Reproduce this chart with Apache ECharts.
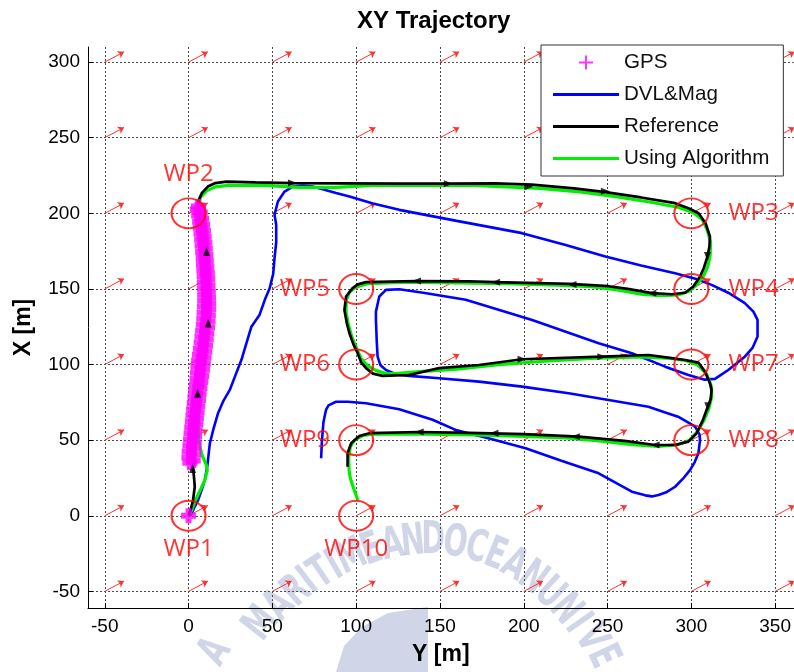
<!DOCTYPE html>
<html><head><meta charset="utf-8">
<script src="https://cdn.jsdelivr.net/npm/echarts@6/dist/echarts.min.js"></script>
<style>html,body{margin:0;padding:0;background:#fff}#c{width:794px;height:672px}</style>
</head><body><div id="c"></div>
<script>
// ---------------- data ----------------
const wpNames = ['WP1','WP2','WP3','WP4','WP5','WP6','WP7','WP8','WP9','WP10'];
const wpY = [0, 0, 300, 300, 100, 100, 300, 300, 100, 100];
const wpX = [0, 200, 200, 150, 150, 100, 100, 50, 50, 0];
const wpLabelSide = ['bottom','top','right','right','left','left','right','right','left','bottom'];

const quiverYNodes = [-50, 0, 50, 100, 150, 200, 250, 300, 350];
const quiverXNodes = [-50, 0, 50, 100, 150, 200, 250, 300];
const quiverU = 11.5;   // current vector, Y component [m]
const quiverV = 6.8;    // current vector, X component [m]

// GPS fixes [Y, X]
const gpsPoints = [
 [0,0],[0.8,35],[2.8,36.5],[0.2,38.5],[3.0,40.5],[0.4,42.5],[3.2,44.5],[0.8,46.5],[3.4,48.5],[1.2,50.5],
 [3.6,52.5],[1.5,54.5],[3.9,56.5],[1.9,58.5],[4.3,60.5],[2.3,62.5],[4.7,64.5],[2.6,66.5],[5.1,68.5],[3.0,70.5],
 [5.5,72.5],[3.4,74.5],[5.9,76.5],[3.8,78.5],[6.3,80.5],[4.2,82.5],[6.8,84.5],[4.6,86.5],[7.3,88.5],[5.0,90.5],
 [7.8,92.5],[5.3,94.5],[8.3,96.5],[5.6,98.5],[8.8,100.5],[6.0,102.5],[9.2,104.5],[6.5,106.5],[9.7,108.5],[7.0,110.5],
 [10.1,112.5],[7.5,114.5],[10.5,116.5],[8.0,118.5],[10.9,120.5],[8.4,122.5],[11.3,124.5],[8.8,126.5],[11.6,128.5],[9.1,130.5],
 [11.8,132.5],[9.3,134.5],[12.0,136.5],[9.5,138.5],[12.0,140.5],[9.6,142.5],[11.9,144.5],[9.6,146.5],[11.8,148.5],[9.5,150.5],
 [11.6,152.5],[9.4,154.5],[11.4,156.5],[9.3,158.5],[11.2,160.5],[9.1,162.5],[10.9,164.5],[8.9,166.5],[10.6,168.5],[8.7,170.5],
 [10.3,172.5],[8.4,174.5],[10.0,176.5],[8.1,178.5],[9.7,180.5],[7.8,182.5],[9.3,184.5],[7.4,186.5],[8.9,188.5],[7.0,190.5],
 [8.4,192.5],[6.6,194.5],[7.8,196.5],[6.0,198.5],[7.0,200.5],[5.3,202.5],[5.8,204.5]
];

// DVL & magnetometer dead-reckoning [Y, X]
const dvlPoints = [
 [0.5,0],[1.8,1.6],[3.5,5.5],[5.7,10.4],[7.8,17],[9.7,23.6],[11.2,33],[12.7,47.9],[15,58],[17.6,67.8],
 [20.8,76],[24.6,83.2],[28,93],[31.5,103],[34.5,114],[37.5,125],[42.4,133],[45.5,142.8],[48.4,150.5],[50.5,160],
 [51.3,170.3],[52.3,181],[52.3,192.4],[51.3,199],[53.3,207.8],[57.3,214.4],[62.2,217.7],[68,218.3],[74.1,217.7],[80,216],
 [88,213.4],[96,211.1],[110,206.5],[125.7,202.3],[160,195],[199,186.9],[225,179],[248.7,171.4],[270,165.5],[290.3,160.4],
 [303,156.5],[312.1,152.7],[322,147.5],[331.9,140.6],[337,135],[339.5,129.5],[339.5,118.5],[336.5,111],[331.9,105.2],[322,96.4],
 [314.1,90.5],[308,90],[298.2,93.1],[284.4,98.6],[264.5,107.5],[244.7,114.1],[205,129.5],[165.4,142.8],[140,147.5],[125.7,149.8],
 [117.8,149.4],[113.8,145],[111.8,135],[111.8,129.5],[112.3,115],[112.8,105.2],[114.5,99.5],[117.8,96.4],[124,93.5],[131.6,92.5],
 [149.5,90.9],[173.3,88.7],[199,85.4],[226.8,81],[250.6,76.6],[274.4,72.1],[284,68.5],[292.1,65.5],[298.5,61.5],[302.2,58.9],
 [304.8,54],[305.2,50.1],[304.2,41.3],[302,35.5],[299.2,30.2],[295,24.5],[290.3,19.2],[285,15.5],[280.4,13.7],[276.4,12.8],
 [272.5,13.5],[264.5,15.9],[244.7,28.1],[222,36.5],[201.1,44.6],[180,51],[160,56.5],[145.6,63.5],[125.7,70.5],[105.9,74.4],
 [95,75.4],[88,75.4],[83.5,73],[82,70],[80.5,62],[80.1,56.7],[79.5,48],[79.1,38]
];

// Reference trajectory [Y, X]
const refPoints = [
 [0,0],[1.5,5],[2.7,10.4],[3.7,19.2],[3.2,26],[2.7,31.4],[3.5,45],[4.5,60],[5.4,81],[7.5,100],
 [10,115],[11.7,127.5],[12,145],[11.5,160],[10.7,174.7],[8.5,190],[5.7,200],[5.7,207.8],[8,213.5],[11.5,217.7],
 [16,220],[22.6,221],[40,220.5],[62,220],[90,219.8],[125.7,219.6],[155,219.6],[183,219.8],[204.8,219],[230,216.5],
 [248.7,214],[270,210.5],[290.3,206.7],[299,203],[304.3,200.1],[308.5,193.5],[311.1,184.6],[310.8,178],[309.6,171.4],[307.5,164],
 [305.2,158.2],[301.2,151.6],[296.3,147.5],[288.3,146.5],[276.4,147.2],[262,150],[250.6,151.8],[226.8,153.3],[183.2,154.5],[167.3,155],
 [136,155.2],[105.9,154.5],[101,153],[97.9,150.5],[94,145],[93,136.1],[94.5,127],[96,120.7],[98.5,113],[100.9,107.5],
 [103,101.5],[105.9,97.6],[110,94],[115.8,92.5],[131.6,93.1],[149.5,97.6],[173.3,99.7],[199,103.5],[246.6,105.2],[274.4,106.3],
 [288.3,104.2],[296.3,103],[304.2,101.3],[308.1,95.3],[311,88],[312.1,83.2],[311.5,77],[309.8,72.1],[306.9,63.3],[303.1,54.5],
 [298.2,49],[290.3,46.8],[278.4,46.8],[260,49.5],[232.8,52.3],[200,54],[167.3,54.8],[137.6,55.4],[107.9,54.6],[101.9,52.7],
 [97,47.9],[94.9,41.3],[94.9,32.4]
];

// Trajectory using the algorithm [Y, X]
const algPoints = [
 [0,0],[2,4],[4,10],[7,17],[9.7,23.6],[11.2,30],[10.5,34],[8,40],[6,50],[5.5,65],
 [6.5,85],[9,105],[11.5,122],[12,140],[11.5,160],[10,178],[7.5,195],[6,204],[7,210.5],[11,215],[16,217.5],
 [24,218.5],[45,218.5],[66,217.2],[88,217.2],[110,218.5],[140,218.5],[170,218.5],[190,217.5],[210,216.5],[235,214],
 [255,211],[275,207.5],[292,204],[301,200.5],[306.5,196],[309.5,189],[311.5,181],[311.2,172],[309.8,164.8],[307,158],
 [303.3,153],[298.5,148.5],[292,146],[282,145.5],[270,146.5],[255,149.5],[240,151.5],[220,152.5],[190,153.5],[160,154],
 [130,154.5],[107,153.5],[100,151.5],[96,148],[94,142],[94,134],[95.5,126],[97.5,118],[100.5,110],[103,104],
 [106.5,99.5],[112,96],[118,94],[125,94.2],[140,95.5],[160,97],[185,100],[210,102],[240,104],[270,105],
 [288,104],[297,102.5],[304,99.5],[309,94],[311.8,86],[312.2,79],[310.5,71],[307.5,63],[303.5,55.5],[299,50],
 [292,47],[280,45.8],[265,47],[245,49.5],[225,51.5],[200,52.5],[170,53.5],[140,54],[110,54],[104,53.2],
 [99,50],[96.5,45.5],[95.5,38],[95.8,30],[96.5,25],[98.5,18],[100.5,12],[101.2,10.5]
];

// direction arrows drawn on the reference line
const refArrowY = [2.4, 5.4, 11.7, 10.7, 62, 155, 203, 248.7, 309.6, 276.4, 228.8, 183.2, 136, 199, 246.6, 309.8, 278.4, 230.8, 182.2, 137.6];
const refArrowX = [31.3, 81, 127.5, 174.7, 220, 219.6, 217.5, 214.6, 171.4, 147.2, 153, 154.5, 155.2, 103.5, 105.2, 72.1, 46.8, 52.3, 54.5, 55.4];
const refArrowDir = [0, 0, 0, 0, -90, -90, -90, -90, 180, 90, 90, 90, 90, -90, -90, 180, 90, 90, 90, 90];

const xTitle = 'Y [m]';
const yTitle = 'X [m]';
const chartTitle = 'XY Trajectory';

// background watermark of the source document (letters, pixel position, clockwise tilt)
const wmChars = ['A','M','A','R','I','T','I','M','E','A','N','D','O','C','E','A','N','U','N','I','V','E'];
const wmPx    = [216,262,280,297,309,322,335,352,372,393,413,433,455,476,495,514,532,549,565,577,590,602];
const wmPy    = [652,624,606,592,582,574,567,558,551,546,543,542,544,549,556,566,579,594,610,624,639,657];
const wmTilt  = [-58,-52,-47,-42,-38,-34,-30,-25,-19,-12,-6,0,8,15,22,29,36,43,50,55,60,65];

// ---------------- chart ----------------
const chart = echarts.init(document.getElementById('c'), null, {renderer: 'canvas'});
const plusSym = 'path://M30,0H70V30H100V70H70V100H30V70H0V30H30Z';
const plusLegend = 'path://M6,0H8V6H14V8H8V14H6V8H0V6H6Z';
const lineLegend = 'path://M0,0H66V3H0Z';
const FONT = 'Liberation Sans, Arial, sans-serif';
const WMCOLOR = 'rgba(100,115,180,0.30)';

const quiverData = [];
quiverYNodes.forEach(function (y) {
  quiverXNodes.forEach(function (x) {
    quiverData.push({coords: [[y, x], [y + quiverU, x + quiverV]]});
  });
});

const wpData = wpNames.map(function (n, i) {
  const side = wpLabelSide[i];
  const dist = side === 'right' ? 19 : side === 'left' ? 8 : side === 'top' ? 11 : 5;
  return {name: n, value: [wpY[i], wpX[i]], label: {position: side, distance: dist}};
});

const arrowData = refArrowY.map(function (y, i) {
  return {value: [y, refArrowX[i]], symbolRotate: refArrowDir[i]};
});

const watermark = wmChars.map(function (ch, i) {
  return {type: 'text', x: wmPx[i], y: wmPy[i], rotation: -wmTilt[i] * Math.PI / 180,
    scaleX: 0.72, silent: true, z: 0,
    style: {text: ch, fill: WMCOLOR, font: 'bold 44px "DejaVu Sans Condensed", "DejaVu Sans", sans-serif',
      align: 'center', verticalAlign: 'middle'}};
});
watermark.push({type: 'polygon', silent: true, z: 0,
  shape: {points: [[336,672],[344,646],[362,627],[388,613],[428,607],[428,672]]},
  style: {fill: WMCOLOR}});

const gridLine = {show: true, showMinLine: false, showMaxLine: false,
  lineStyle: {color: '#4a4a4a', width: 1, type: [2, 2]}};

chart.setOption({
  animation: false,
  backgroundColor: '#fff',
  title: {text: chartTitle, left: 357, top: 9, padding: 0,
    textStyle: {fontSize: 24, fontWeight: 'bold', fontFamily: FONT, color: '#000'}},
  grid: {left: 88, right: 0, top: 47, bottom: 64, containLabel: false},
  graphic: watermark,
  legend: {
    orient: 'vertical', left: 541, top: 45,
    padding: [7, 14, 7, 12], itemGap: 11, itemWidth: 66, itemHeight: 14,
    backgroundColor: '#fff', borderColor: '#333', borderWidth: 1, borderRadius: 0,
    selectedMode: false,
    textStyle: {fontSize: 20.6, fontFamily: FONT, color: '#111'},
    data: [
      {name: 'GPS', icon: plusLegend},
      {name: 'DVL&Mag', icon: lineLegend},
      {name: 'Reference', icon: lineLegend},
      {name: 'Using Algorithm', icon: lineLegend}
    ]
  },
  xAxis: {
    type: 'value', min: -60, max: 361, minInterval: 50, maxInterval: 50,
    name: xTitle, nameLocation: 'middle', nameGap: 35,
    nameTextStyle: {fontSize: 23, fontWeight: 'bold', fontFamily: FONT, color: '#000'},
    axisLine: {show: true, onZero: false, lineStyle: {color: '#000', width: 1}},
    axisTick: {show: true, inside: true, length: 5, lineStyle: {color: '#000'}},
    axisLabel: {fontSize: 19, fontFamily: FONT, color: '#000', margin: 9, showMinLabel: false, showMaxLabel: false},
    splitLine: gridLine
  },
  yAxis: {
    type: 'value', min: -61, max: 310, minInterval: 50, maxInterval: 50,
    name: yTitle, nameLocation: 'middle', nameGap: 53, nameRotate: 90,
    nameTextStyle: {fontSize: 23, fontWeight: 'bold', fontFamily: FONT, color: '#000'},
    axisLine: {show: true, onZero: false, lineStyle: {color: '#000', width: 1}},
    axisTick: {show: true, inside: true, length: 5, lineStyle: {color: '#000'}},
    axisLabel: {fontSize: 19, fontFamily: FONT, color: '#000', margin: 8, showMinLabel: false, showMaxLabel: false},
    splitLine: gridLine
  },
  series: [
    {name: 'DVL&Mag', type: 'line', data: dvlPoints, showSymbol: false, symbol: 'none',
      color: '#0000ff', lineStyle: {color: '#0000ff', width: 2.6}, z: 2, silent: true},
    {name: 'Using Algorithm', type: 'line', data: algPoints, showSymbol: false, symbol: 'none',
      color: '#00ee00', lineStyle: {color: '#00ee00', width: 3.2}, z: 2, silent: true},
    {name: 'Reference', type: 'line', data: refPoints, showSymbol: false, symbol: 'none',
      color: '#000000', lineStyle: {color: '#000000', width: 2.7}, z: 2, silent: true},
    {name: 'GPS', type: 'scatter', data: gpsPoints, symbol: plusSym, symbolSize: 15,
      color: '#ff00ff', itemStyle: {color: '#ff00ff'}, z: 2, silent: true},
    {name: 'refArrows', type: 'scatter', data: arrowData, symbol: 'triangle', symbolSize: [7, 9],
      itemStyle: {color: '#000'}, z: 2, silent: true},
    {name: 'waypoints', type: 'scatter', data: wpData, symbol: 'circle', symbolSize: [34, 30],
      itemStyle: {color: 'rgba(0,0,0,0)', borderColor: '#ff0000', borderWidth: 2},
      label: {show: true, formatter: '{b}', color: '#ff0000', fontSize: 24, fontFamily: 'Open Sans, Noto Sans, sans-serif'},
      z: 2, silent: true},
    {name: 'current', type: 'lines', coordinateSystem: 'cartesian2d', data: quiverData,
      symbol: ['none', 'arrow'], symbolSize: 6,
      lineStyle: {color: '#ff3030', width: 1, opacity: 1}, z: 2, silent: true}
  ]
});
</script></body></html>
